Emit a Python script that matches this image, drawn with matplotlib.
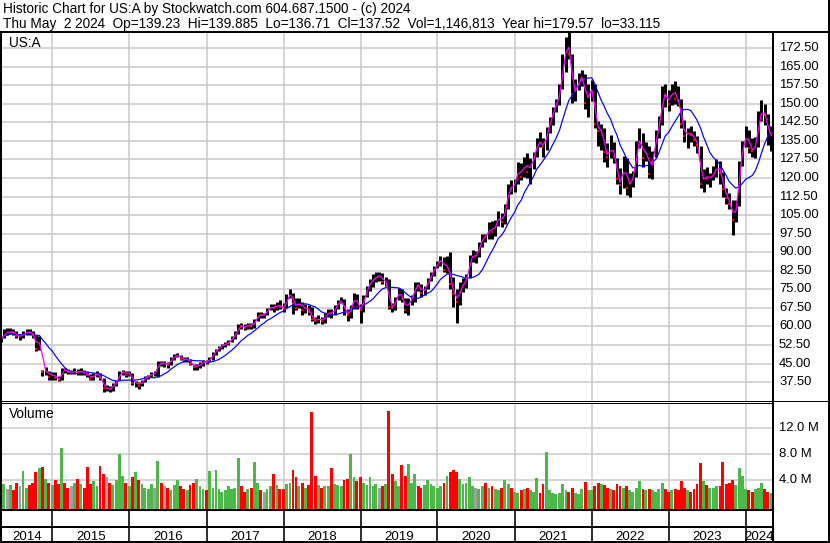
import datetime as dt
import numpy as np
import pandas as pd
import matplotlib
matplotlib.use("Agg")
import matplotlib.pyplot as plt
import matplotlib.dates as mdates
import matplotlib.transforms as mtransforms
from matplotlib.lines import Line2D

plt.rcParams['font.family'] = ['Liberation Sans', 'DejaVu Sans']

# ---------------- data (semi-monthly, 1st and 15th) ----------------
dates = pd.date_range('2014-05-01', '2024-05-01', freq='SMS')

close = [
    # 2014 (May-Dec)
    54.5, 57.5, 57.5, 58.0, 57.5, 56.0, 56.0, 57.0, 58.0, 57.5, 56.5, 51.0, 55.5, 41.5, 42.5, 39.5,
    # 2015
    41.0, 39.0, 38.5, 42.5, 42.3, 41.5, 41.5, 41.8, 41.5, 42.0, 41.2, 40.5,
    38.8, 40.5, 41.0, 39.0, 35.0, 35.0, 34.5, 36.5, 37.8, 41.5, 41.8, 40.5,
    # 2016
    41.8, 37.0, 37.5, 36.0, 38.0, 39.5, 40.0, 41.0, 41.0, 45.5, 45.0, 45.0,
    44.5, 47.0, 48.0, 48.5, 47.0, 46.5, 47.0, 45.0, 43.5, 44.0, 44.5, 46.0,
    # 2017
    45.6, 47.0, 49.0, 50.5, 51.5, 52.5, 53.0, 53.5, 55.5, 56.5, 60.5, 60.0,
    59.5, 61.0, 60.0, 62.0, 65.0, 64.5, 64.5, 67.0, 68.0, 67.5, 69.0, 68.0,
    # 2018
    67.0, 72.0, 73.5, 69.5, 67.5, 70.5, 66.5, 68.0, 66.0, 63.0, 62.0, 63.5,
    62.0, 64.5, 66.0, 65.0, 67.5, 70.0, 70.5, 66.0, 64.5, 67.5, 73.0, 68.0,
    # 2019
    66.5, 72.0, 76.0, 78.0, 79.0, 80.5, 80.5, 78.0, 78.5, 68.0, 67.5, 71.0,
    74.5, 71.0, 66.5, 70.5, 71.0, 77.0, 76.5, 73.5, 75.5, 78.5, 81.0, 84.0,
    # 2020
    85.5, 87.5, 83.0, 86.0, 77.0, 73.0, 70.0, 76.0, 77.0, 79.5, 88.0, 88.5,
    88.5, 93.0, 96.5, 96.0, 100.5, 98.0, 101.5, 105.0, 102.0, 108.0, 116.5, 115.5,
    # 2021
    118.5, 124.5, 120.5, 127.5, 122.5, 126.0, 128.5, 135.0, 134.0, 132.5, 139.0, 143.0,
    148.0, 150.0, 156.0, 166.0, 175.5, 170.0, 154.0, 156.0, 160.0, 161.5, 150.5, 154.5,
    # 2022
    157.0, 142.0, 139.0, 139.5, 130.5, 128.5, 133.5, 128.5, 119.5, 117.0, 127.5, 116.0,
    119.0, 120.5, 134.0, 136.0, 128.0, 132.5, 121.5, 129.0, 138.5, 141.5, 155.0, 153.0,
    # 2023
    150.0, 157.0, 152.0, 151.0, 142.0, 137.0, 138.5, 137.5, 135.5, 133.5, 117.5, 121.5,
    119.5, 120.5, 121.5, 125.5, 122.0, 115.5, 112.0, 109.5, 103.0, 109.5, 125.5, 133.0,
    # 2024 (Jan-May)
    139.0, 132.0, 131.0, 133.5, 145.0, 147.0, 145.5, 137.0, 137.5,
]

high = [
    56.0, 59.0, 59.3, 59.5, 58.8, 58.0, 57.0, 58.0, 59.0, 59.0, 58.0, 56.5, 56.0, 42.5, 43.5, 42.0,
    41.5, 41.5, 40.0, 43.0, 43.2, 42.8, 42.5, 43.0, 42.8, 43.0, 42.5, 41.8,
    40.8, 41.0, 42.0, 41.3, 39.0, 36.5, 36.0, 37.0, 38.2, 42.0, 42.5, 42.0,
    42.0, 41.0, 38.0, 37.5, 38.5, 40.0, 40.5, 41.5, 41.8, 46.0, 46.0, 46.0,
    45.5, 47.5, 48.8, 49.2, 48.5, 47.5, 47.5, 47.0, 45.0, 44.8, 45.5, 46.5,
    46.5, 47.5, 49.5, 51.0, 52.0, 53.0, 53.5, 54.5, 56.0, 58.0, 61.0, 61.5,
    61.0, 61.5, 61.5, 63.0, 66.0, 66.0, 65.5, 67.5, 69.0, 69.0, 70.0, 70.5,
    69.5, 73.0, 75.0, 73.5, 71.5, 71.5, 70.0, 69.0, 68.5, 68.0, 64.0, 64.5,
    64.0, 65.5, 67.0, 67.0, 68.5, 70.5, 72.0, 71.0, 67.0, 68.5, 73.5, 73.0,
    69.0, 72.5, 76.5, 79.0, 81.0, 82.0, 82.0, 81.5, 80.0, 79.0, 69.5, 72.0,
    75.5, 75.0, 71.5, 71.5, 72.5, 78.0, 78.0, 77.0, 76.5, 79.5, 82.0, 84.5,
    86.5, 88.5, 88.0, 88.5, 90.0, 80.0, 75.0, 78.0, 79.5, 81.0, 89.0, 91.0,
    90.5, 94.0, 97.5, 97.5, 102.0, 102.5, 103.0, 106.5, 106.0, 109.5, 117.5, 119.0,
    119.5, 126.5, 126.0, 128.5, 130.0, 128.0, 130.5, 136.0, 138.5, 136.0, 140.5, 144.5,
    148.5, 152.0, 158.0, 170.0, 177.0, 179.5, 170.0, 160.0, 162.5, 163.5, 162.0, 158.0,
    159.5, 158.0, 143.0, 142.0, 140.0, 134.0, 137.5, 134.5, 128.0, 124.0, 129.0, 128.0,
    122.0, 123.0, 135.0, 140.0, 138.0, 134.5, 133.0, 131.0, 139.5, 145.0, 157.0, 158.0,
    155.5, 158.0, 159.0, 157.0, 152.0, 143.5, 140.0, 141.0, 139.0, 137.0, 133.0, 123.5,
    124.5, 122.0, 125.0, 127.5, 127.0, 122.5, 116.0, 114.0, 111.0, 111.0, 127.0, 135.0,
    141.0, 139.5, 136.0, 136.5, 147.0, 151.5, 150.0, 146.0, 141.0,
]

low = [
    53.5, 55.5, 56.5, 57.0, 56.5, 55.5, 54.5, 55.5, 56.5, 56.5, 55.5, 50.0, 50.5, 39.8, 40.5, 38.5,
    38.5, 38.5, 37.8, 38.5, 41.2, 40.8, 40.8, 40.8, 40.5, 40.5, 40.5, 39.5,
    38.3, 38.5, 39.5, 38.5, 33.5, 33.8, 33.5, 34.0, 36.0, 38.5, 40.5, 39.5,
    40.0, 36.5, 35.5, 34.8, 36.0, 37.5, 38.8, 39.5, 39.8, 39.5, 44.0, 43.5,
    43.0, 44.5, 46.5, 47.5, 46.5, 45.5, 45.5, 44.5, 42.5, 42.5, 43.0, 44.0,
    44.8, 45.5, 46.5, 48.5, 50.0, 51.0, 51.8, 52.5, 53.5, 55.0, 57.0, 59.0,
    58.5, 59.0, 59.0, 59.5, 62.0, 63.5, 63.5, 64.5, 66.5, 66.0, 66.5, 67.0,
    66.0, 67.5, 71.5, 65.0, 66.5, 67.5, 64.5, 65.5, 64.5, 62.0, 61.0, 61.5,
    61.0, 61.5, 64.0, 63.5, 64.5, 67.0, 69.5, 64.5, 62.0, 63.5, 67.0, 67.0,
    61.5, 66.0, 72.0, 74.5, 76.0, 78.0, 78.5, 77.0, 76.5, 67.0, 66.0, 66.5,
    70.5, 70.0, 65.5, 64.5, 68.5, 70.0, 74.5, 72.0, 72.5, 75.0, 78.5, 80.5,
    83.5, 84.5, 82.0, 81.5, 75.0, 68.0, 61.5, 68.5, 74.0, 75.5, 79.5, 86.0,
    85.5, 88.0, 92.0, 94.0, 95.5, 95.5, 96.5, 100.5, 100.0, 101.5, 107.5, 113.5,
    114.5, 117.5, 119.0, 120.5, 120.0, 117.5, 123.5, 128.5, 132.5, 128.5, 131.5, 138.0,
    141.5, 146.5, 149.5, 156.0, 163.0, 168.0, 150.5, 151.0, 155.5, 157.0, 148.0, 144.5,
    151.0, 140.0, 133.0, 131.5, 126.5, 124.5, 128.0, 126.0, 117.5, 113.5, 116.0, 113.0,
    112.5, 116.5, 120.5, 132.0, 124.5, 127.0, 120.0, 119.5, 128.5, 136.0, 141.5, 148.5,
    147.0, 149.5, 150.0, 149.0, 140.0, 134.5, 132.0, 134.5, 133.0, 130.0, 116.0, 114.5,
    117.5, 116.5, 119.0, 120.5, 117.5, 112.5, 109.5, 107.5, 96.8, 102.0, 108.5, 125.0,
    132.5, 130.0, 128.5, 128.0, 132.5, 143.0, 141.5, 133.5, 131.0,
]

prior_close = 56.0  # close before the first point

volume_m = [
    # 2014
    5.5, 3.4, 2.6, 3.2, 2.4, 3.6, 3.0, 5.4, 2.8, 3.2, 3.5, 5.2, 5.8, 6.0, 4.2, 3.6,
    # 2015
    3.2, 4.0, 3.4, 9.0, 3.6, 2.8, 3.0, 3.6, 4.2, 3.4, 2.8, 6.0,
    3.4, 3.8, 3.0, 6.2, 5.0, 4.4, 3.6, 3.2, 4.0, 8.0, 4.6, 3.6,
    # 2016
    3.0, 4.4, 5.2, 4.0, 3.4, 2.8, 2.6, 3.4, 2.8, 7.0, 3.6, 3.0,
    2.8, 2.4, 3.2, 4.0, 3.0, 2.6, 2.4, 3.2, 3.6, 4.2, 3.0, 2.6,
    # 2017
    2.4, 5.4, 2.8, 5.5, 2.6, 2.2, 2.4, 3.0, 2.6, 2.8, 7.4, 3.0,
    2.2, 2.6, 2.8, 6.8, 3.6, 2.4, 2.2, 2.6, 3.0, 5.0, 3.2, 2.6,
    # 2018
    2.6, 3.4, 3.6, 5.5, 4.4, 3.0, 3.6, 2.8, 3.2, 14.5, 4.6, 3.2,
    2.8, 3.0, 3.0, 5.9, 3.4, 3.2, 3.0, 4.0, 4.2, 8.0, 4.4, 3.8,
    # 2019
    4.5, 3.6, 3.2, 4.4, 3.0, 3.4, 2.8, 3.0, 3.4, 14.7, 5.0, 3.8,
    3.0, 6.3, 4.6, 6.5, 3.6, 5.0, 3.0, 2.8, 3.2, 4.0, 3.4, 3.0,
    # 2020
    2.8, 3.0, 3.6, 4.6, 5.2, 5.5, 5.2, 4.2, 3.4, 3.6, 4.4, 3.0,
    2.8, 2.6, 3.0, 3.6, 2.8, 3.0, 2.6, 2.4, 2.8, 4.0, 3.4, 2.8,
    # 2021
    2.2, 2.0, 2.4, 2.6, 2.8, 2.4, 2.2, 4.3, 2.0, 3.4, 8.4, 2.4,
    2.0, 1.8, 2.0, 3.4, 2.4, 2.2, 2.8, 2.0, 1.8, 2.6, 3.7, 2.4,
    # 2022
    2.4, 3.0, 3.6, 3.4, 3.2, 2.8, 2.6, 2.4, 3.4, 3.0, 2.8, 3.0,
    2.4, 2.2, 2.8, 3.9, 2.6, 2.4, 2.6, 2.4, 2.2, 2.6, 3.6, 2.6,
    # 2023
    2.2, 2.4, 2.6, 2.4, 3.8, 2.8, 2.4, 2.2, 2.6, 3.4, 6.6, 3.8,
    3.2, 2.8, 2.8, 3.0, 3.0, 6.8, 3.4, 3.6, 4.0, 3.2, 5.9, 4.6,
    # 2024
    2.6, 2.4, 2.2, 2.6, 2.8, 3.6, 2.6, 2.2, 2.0,
]

price_ticks = [37.5, 45.0, 52.5, 60.0, 67.5, 75.0, 82.5, 90.0, 97.5, 105.0, 112.5,
               120.0, 127.5, 135.0, 142.5, 150.0, 157.5, 165.0, 172.5]
volume_ticks = [4.0, 8.0, 12.0]
years = list(range(2014, 2025))

header1 = "Historic Chart for US:A by Stockwatch.com 604.687.1500 - (c) 2024"
header2 = ("Thu May  2 2024  Op=139.23  Hi=139.885  Lo=136.71  Cl=137.52  "
           "Vol=1,146,813  Year hi=179.57  lo=33.115")
symbol = "US:A"

# ---------------- derived series ----------------
s_close = pd.Series(close, index=dates)
ma_short = s_close.rolling(2, min_periods=1).mean()
ma_long = s_close.rolling(10, min_periods=1).mean()
prev = np.r_[prior_close, np.array(close[:-1])]
c_arr = np.array(close)
vol_colors = np.where(c_arr > prev, '#4cb848', np.where(c_arr < prev, '#ff0000', '#a0a0a0'))
down = c_arr < prev

# ---------------- layout helpers (pixel based) ----------------
W, H = 830, 543
PX = 0.72  # points per pixel at dpi 100
fig = plt.figure(figsize=(W / 100, H / 100), dpi=100)
fig.patch.set_facecolor('white')

def fx(px):
    return px / W

def fy(py):
    return 1 - py / H

def fline(xs, ys, lw, color='black'):
    fig.add_artist(Line2D([fx(x) for x in xs], [fy(y) for y in ys], lw=lw * PX,
                          color=color, transform=fig.transFigure, solid_capstyle='butt'))

L_PX, R_PX = 2, 772
ax = fig.add_axes([fx(L_PX), fy(400.7), fx(R_PX) - fx(L_PX), fy(32) - fy(400.7)])
axv = fig.add_axes([fx(L_PX), fy(509.5), fx(R_PX) - fx(L_PX), fy(403) - fy(509.5)])

px_per_year = 77.04
x2015 = mdates.date2num(dt.datetime(2015, 1, 1))
x2024 = mdates.date2num(dt.datetime(2024, 1, 1))
xleft = x2015 - (52.3 - L_PX) / px_per_year * 365.25
xright = x2024 + (R_PX - 745.7) / px_per_year * 365.25

for a in (ax, axv):
    a.set_xlim(xleft, xright)
    a.set_facecolor('white')
    for sp in a.spines.values():
        sp.set_visible(False)
    a.set_xticks([])
    a.set_yticks([])

ax.set_ylim(29.97, 179.0)
axv.set_ylim(-0.556, 15.9)

grid_c = '#c8c8c8'
year_starts = [mdates.date2num(dt.datetime(y, 1, 1)) for y in years[1:]]
for xs in year_starts:
    ax.axvline(xs, color=grid_c, lw=1.5 * PX, zorder=0)
    axv.axvline(xs, color=grid_c, lw=1.5 * PX, zorder=0)
for p in price_ticks:
    ax.axhline(p, color=grid_c, lw=1.5 * PX, zorder=0)
for v in volume_ticks:
    axv.axhline(v, color=grid_c, lw=1.5 * PX, zorder=0)

# price bars
xd = mdates.date2num(dates.to_pydatetime())
ax.vlines(xd, low, high, color='black', lw=3.0 * PX, zorder=2)
ax.scatter(xd[down], c_arr[down], s=2.5, marker='s', color='#ff0000', lw=0, zorder=3)
ax.plot(xd, ma_long.values, color='#0000ff', lw=1.2 * PX, zorder=4)
ax.plot(xd, ma_short.values, color='#ff00ff', lw=1.3 * PX, zorder=5)

# volume bars
vb = -0.556
axv.bar(xd, np.array(volume_m) - vb, bottom=vb, width=13.5, color=vol_colors, lw=0, zorder=2)

# ---------------- frame lines ----------------
fline([0, W], [31.5, 31.5], 2)            # under header
fline([1, 1], [31, H], 2)                  # left border
fline([W - 1.5, W - 1.5], [0, H], 2)       # right border
fline([0, W], [541.5, 541.5], 2)           # bottom border
fline([773, 773], [31, H], 2)              # right axis separator
fline([0, 773], [401, 401], 1)             # double line between panels
fline([0, 773], [403, 403], 1)
fline([773, W], [401, 401], 1)
fline([0, 773], [510, 510], 2)             # year strip
fline([0, 773], [526.5, 526.5], 2)

blend_x = mtransforms.blended_transform_factory(ax.transData, fig.transFigure)
for xs in year_starts:
    fig.add_artist(Line2D([xs, xs], [fy(510), fy(541)], lw=1.6 * PX, color='black',
                          transform=blend_x))
bounds = [xleft] + year_starts + [xright]
for i, y in enumerate(years):
    mid = (bounds[i] + bounds[i + 1]) / 2
    fig.text(mid, fy(539.5), str(y), transform=blend_x, ha='center', va='baseline',
             fontsize=9.6)

# ---------------- texts ----------------
fig.text(fx(3), fy(13.5), header1, fontsize=9.8, va='baseline', ha='left')
fig.text(fx(3), fy(28), header2, fontsize=9.8, va='baseline', ha='left')
fig.text(fx(9), fy(46.5), symbol, fontsize=9.8, va='baseline', ha='left')
fig.text(fx(9), fy(417.5), "Volume", fontsize=9.8, va='baseline', ha='left')

blend_py = mtransforms.blended_transform_factory(fig.transFigure, ax.transData)
for p in price_ticks:
    fig.text(fx(779), p, f"{p:.2f}", transform=blend_py, va='center', ha='left', fontsize=9.4)
blend_vy = mtransforms.blended_transform_factory(fig.transFigure, axv.transData)
for v in volume_ticks:
    fig.text(fx(779), v, f"{v:.1f} M", transform=blend_vy, va='center', ha='left', fontsize=9.4)

fig.savefig('out.png', dpi=100, facecolor='white')
